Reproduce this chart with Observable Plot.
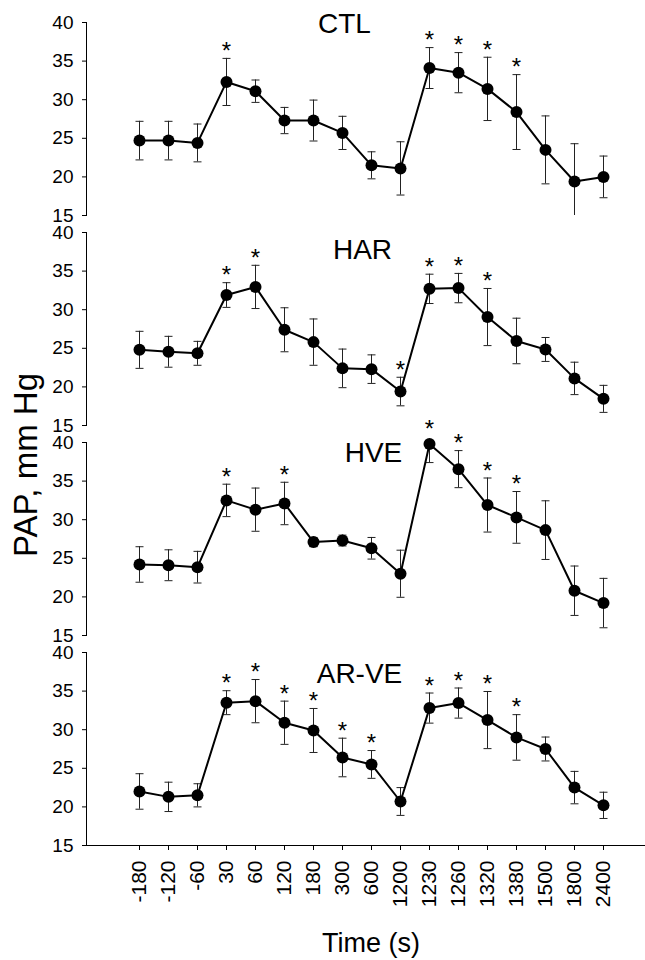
<!DOCTYPE html>
<html><head><meta charset="utf-8">
<script src="https://cdn.jsdelivr.net/npm/d3@7"></script>
<script src="https://cdn.jsdelivr.net/npm/@observablehq/plot@0.6"></script>
<style>body{margin:0;background:#fff} #chart{width:645px;height:960px}</style>
</head><body><div id="chart"></div>
<script>
const times = ["-180","-120","-60","30","60","120","180","300","600","1200","1230","1260","1320","1380","1500","1800","2400"];
const panels = ["CTL","HAR","HVE","AR-VE"];
const yTicks = [15,20,25,30,35,40];

const ctlMean = [24.7,24.7,24.4,32.3,31.1,27.3,27.3,25.7,21.5,21.1,34.1,33.5,31.4,28.4,23.5,19.4,20.0];
const ctlSe   = [2.5,2.5,2.45,3.05,1.45,1.7,2.65,2.15,1.75,3.45,2.65,2.6,4.1,4.85,4.4,4.9,2.7];
const ctlStars = ["30","1230","1260","1320","1380"];

const harMean = [24.8,24.55,24.35,31.9,32.95,27.4,25.8,22.4,22.3,19.4,32.7,32.8,29.05,25.95,24.85,21.1,18.45];
const harSe   = [2.4,2.0,1.55,1.6,2.8,2.85,3.0,2.5,1.85,1.85,1.9,1.9,3.7,2.95,1.55,2.1,1.75];
const harStars = ["30","60","1200","1230","1260","1320"];

const hveMean = [24.2,24.1,23.85,32.5,31.3,32.1,27.1,27.3,26.3,23.0,39.8,36.55,31.9,30.3,28.65,20.8,19.2];
const hveSe   = [2.3,2.0,2.05,2.1,2.8,2.75,0.6,0.7,1.4,3.05,2.4,2.4,3.5,3.35,3.8,3.2,3.2];
const hveStars = ["30","120","1230","1260","1320","1380"];

const arveMean = [22.0,21.3,21.5,33.5,33.7,30.9,29.9,26.4,25.5,20.7,32.8,33.45,31.25,29.0,27.5,22.5,20.2];
const arveSe   = [2.3,1.9,1.5,1.55,2.8,2.8,2.85,2.5,1.8,1.8,1.95,1.95,3.7,2.95,1.55,2.1,1.7];
const arveStars = ["30","60","120","180","300","600","1230","1260","1320","1380"];

const series = {
  "CTL": [ctlMean, ctlSe, ctlStars],
  "HAR": [harMean, harSe, harStars],
  "HVE": [hveMean, hveSe, hveStars],
  "AR-VE": [arveMean, arveSe, arveStars]
};

const rows = [];
for (const p of panels) {
  const [m, s, st] = series[p];
  times.forEach((t, i) => rows.push({panel: p, time: t, mean: m[i], lo: m[i] - s[i], hi: m[i] + s[i], star: st.includes(t)}));
}

const capSymbol = {draw(ctx, size) { const r = Math.sqrt(size / Math.PI); ctx.moveTo(-r, 0); ctx.lineTo(r, 0); }};
const font = "'Liberation Sans', Arial, sans-serif";
const yMax = yTicks[yTicks.length - 1];

const labelPos = {"CTL": [258, 2], "HAR": [276, 18], "HVE": [287, 11], "AR-VE": [273, 22]};

const plot = Plot.plot({
  width: 645, height: 960,
  marginLeft: 86, marginRight: 0, marginTop: 21, marginBottom: 114,
  style: {fontFamily: font, color: "#000", background: "#fff"},
  x: {type: "point", domain: times, range: [118.7, 623.7]},
  y: {domain: [yTicks[0], yMax]},
  fy: {domain: panels, paddingInner: 0.083, paddingOuter: 0, axis: null},
  marks: [
    Plot.frame({anchor: "left", stroke: "#000", strokeWidth: 1}),
    Plot.ruleY([{panel: "AR-VE"}], {y: () => yTicks[0], fy: "panel", stroke: "#000", strokeWidth: 1}),
    Plot.axisY({ticks: yTicks, tickSize: 4, tickPadding: 9, fontSize: 19, label: null}),
    Plot.axisX({tickSize: 5, tickPadding: 10, tickRotate: -90, fontSize: 21, label: null}),
    Plot.ruleX(rows, {x: "time", y1: "lo", y2: "hi", fy: "panel", stroke: "#222", strokeWidth: 1, clip: true}),
    Plot.dot(rows, {x: "time", y: "hi", fy: "panel", symbol: capSymbol, r: 4, stroke: "#222", strokeWidth: 1, clip: true}),
    Plot.dot(rows, {x: "time", y: "lo", fy: "panel", symbol: capSymbol, r: 4, stroke: "#222", strokeWidth: 1, clip: true}),
    Plot.line(rows, {x: "time", y: "mean", fy: "panel", stroke: "#000", strokeWidth: 2}),
    Plot.dot(rows, {x: "time", y: "mean", fy: "panel", r: 6, fill: "#000", stroke: "none"}),
    Plot.text(rows.filter(d => d.star), {x: "time", y: d => Math.min(d.hi, yMax + 0.8), fy: "panel", text: () => "*", fontSize: 24, dy: -7, fill: "#000"}),
    ...panels.map(p => Plot.text([{panel: p}], {fy: "panel", text: () => p, frameAnchor: "top-left", dx: labelPos[p][0], dy: labelPos[p][1], textAnchor: "middle", lineAnchor: "middle", fontSize: 28, fill: "#000"}))
  ]
});

const svg = d3.select(plot);
svg.append("text")
  .attr("transform", "translate(37,465) rotate(-90)")
  .attr("text-anchor", "middle")
  .attr("font-size", 33)
  .attr("font-family", font)
  .attr("fill", "#000")
  .text("PAP, mm Hg");
svg.append("text")
  .attr("x", 371).attr("y", 952)
  .attr("text-anchor", "middle")
  .attr("font-size", 27)
  .attr("font-family", font)
  .attr("fill", "#000")
  .text("Time (s)");

document.getElementById("chart").append(plot);
</script>
</body></html>
